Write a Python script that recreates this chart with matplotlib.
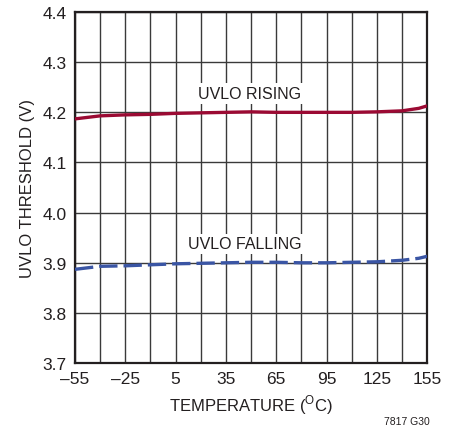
import matplotlib.pyplot as plt

plt.rcParams['font.family'] = ['Liberation Sans Narrow', 'Liberation Sans', 'DejaVu Sans']

# Data
temp = [-55, -45, -40, -25, -10, 5, 20, 35, 50, 65, 80, 95, 110, 125, 140, 150, 155]
uvlo_rising = [4.187, 4.191, 4.193, 4.195, 4.196, 4.198, 4.199, 4.200, 4.201, 4.200,
               4.200, 4.200, 4.200, 4.201, 4.203, 4.208, 4.213]
uvlo_falling = [3.887, 3.891, 3.893, 3.894, 3.896, 3.898, 3.899, 3.900, 3.901, 3.901,
                3.900, 3.900, 3.901, 3.902, 3.905, 3.909, 3.913]
xticks = [-55, -25, 5, 35, 65, 95, 125, 155]
xgrid = list(range(-55, 156, 15))
yticks = [3.7, 3.8, 3.9, 4.0, 4.1, 4.2, 4.3, 4.4]

fig = plt.figure(figsize=(4.58, 4.35), dpi=100)
ax = fig.add_axes([0.1638, 0.163, 0.769, 0.807])

ax.plot(temp, uvlo_rising, color='#9b0a33', lw=2.4, zorder=3)
ax.plot(temp, uvlo_falling, color='#3a55a4', lw=2.4, ls=(0, (5.5, 1.8)), zorder=3)

ax.set_xlim(-55, 155)
ax.set_ylim(3.7, 4.4)
ax.set_xticks(xgrid)
ax.set_xticklabels([(f'\u2013{-t}' if t < 0 else str(t)) if t in xticks else '' for t in xgrid])
ax.set_yticks(yticks)
ax.set_yticklabels([f'{v:.1f}' for v in yticks])
ax.tick_params(length=0, labelsize=12.5, pad=6, colors='#231f20')
ax.grid(True, color='#3a3a3a', lw=1.0)
for s in ax.spines.values():
    s.set_linewidth(1.6)
    s.set_color('#231f20')

ax.text(49, 4.238, 'UVLO RISING', fontsize=11.5, ha='center', va='center',
        bbox=dict(facecolor='white', edgecolor='none', pad=2), zorder=2, color='#231f20')
ax.text(46, 3.938, 'UVLO FALLING', fontsize=11.5, ha='center', va='center',
        bbox=dict(facecolor='white', edgecolor='none', pad=2), zorder=2, color='#231f20')

ax.set_xlabel('TEMPERATURE ($^{\\mathregular{O}}$C)', fontsize=12, color='#231f20', labelpad=4)
ax.set_ylabel('UVLO THRESHOLD (V)', fontsize=12, color='#231f20', labelpad=5)
fig.text(0.889, 0.018, '7817 G30', fontsize=7.5, ha='center', va='bottom', color='#231f20')

fig.savefig('out.png', dpi=100)
